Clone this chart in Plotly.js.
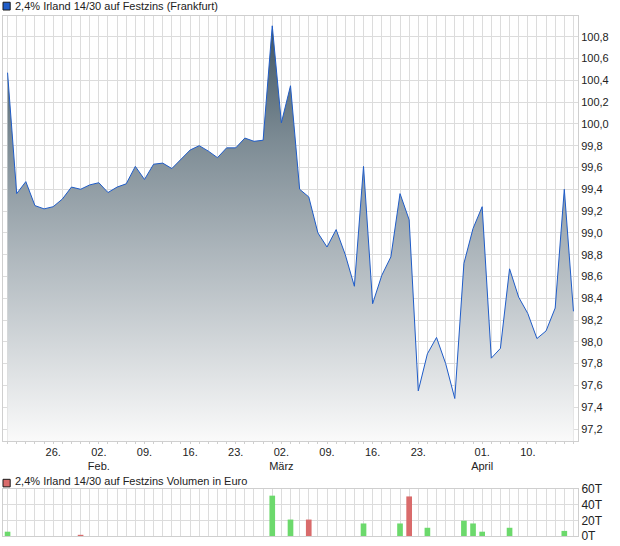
<!DOCTYPE html>
<html>
<head>
<meta charset="utf-8">
<script src="https://cdn.plot.ly/plotly-3.0.1.min.js"></script>
<style>html,body{margin:0;padding:0;background:#fff;}#chart{width:620px;height:546px;}</style>
</head>
<body>
<div id="chart"></div>
<script>
// Trading days (Frankfurt, 2015)
var dates = [
 '2015-01-19','2015-01-20','2015-01-21','2015-01-22','2015-01-23',
 '2015-01-26','2015-01-27','2015-01-28','2015-01-29','2015-01-30',
 '2015-02-02','2015-02-03','2015-02-04','2015-02-05','2015-02-06',
 '2015-02-09','2015-02-10','2015-02-11','2015-02-12','2015-02-13',
 '2015-02-16','2015-02-17','2015-02-18','2015-02-19','2015-02-20',
 '2015-02-23','2015-02-24','2015-02-25','2015-02-26','2015-02-27',
 '2015-03-02','2015-03-03','2015-03-04','2015-03-05','2015-03-06',
 '2015-03-09','2015-03-10','2015-03-11','2015-03-12','2015-03-13',
 '2015-03-16','2015-03-17','2015-03-18','2015-03-19','2015-03-20',
 '2015-03-23','2015-03-24','2015-03-25','2015-03-26','2015-03-27',
 '2015-03-30','2015-03-31','2015-04-01','2015-04-02',
 '2015-04-07','2015-04-08','2015-04-09','2015-04-10',
 '2015-04-13','2015-04-14','2015-04-15','2015-04-16','2015-04-17'
];
var prices = [
 100.47, 99.36, 99.47, 99.25, 99.22,
 99.24, 99.31, 99.42, 99.40, 99.44,
 99.46, 99.37, 99.42, 99.45, 99.61,
 99.49, 99.63, 99.64, 99.59, 99.68,
 99.76, 99.80, 99.75, 99.69, 99.78,
 99.78, 99.87, 99.84, 99.85, 100.90,
 100.01, 100.35, 99.40, 99.33, 99.00,
 98.87, 99.03, 98.80, 98.51, 99.61,
 98.35, 98.61, 98.78, 99.36, 99.12,
 97.55, 97.89, 98.04, 97.80, 97.48,
 98.72, 99.04, 99.24, 97.85,
 97.94, 98.67, 98.41, 98.26,
 98.03, 98.10, 98.31, 99.40, 98.28
];
// Volume in thousand euro (T)
var volDates = ['2015-01-19','2015-01-29','2015-02-27','2015-03-03','2015-03-05','2015-03-13','2015-03-19',
                '2015-03-20','2015-03-24','2015-03-30','2015-03-31','2015-04-01','2015-04-08','2015-04-16'];
var volValues = [5.5, 1.5, 51.5, 21, 21, 16, 16, 50.5, 10.5, 19.5, 16, 5.5, 10.5, 6.5];

var tickDates = ['2015-01-26','2015-02-02','2015-02-09','2015-02-16','2015-02-23','2015-03-02',
                 '2015-03-09','2015-03-16','2015-03-23','2015-04-01','2015-04-10'];
var tickLabels = ['26.','02.<br>Feb.','09.','16.','23.','02.<br>März','09.','16.','23.','01.<br>April','10.'];

var priceTicks = [97.2,97.4,97.6,97.8,98.0,98.2,98.4,98.6,98.8,99.0,99.2,99.4,99.6,99.8,100.0,100.2,100.4,100.6,100.8];
var volTicks = [0,20,40,60];
var volTickLabels = ['0T','20T','40T','60T'];

var titleMain = '2,4% Irland 14/30 auf Festzins (Frankfurt)';
var titleVol = '2,4% Irland 14/30 auf Festzins Volumen in Euro';

var xIdx = dates.map(function(d, i){ return i; });
var volX = volDates.map(function(d){ return dates.indexOf(d); });
var volColors = volX.map(function(i){
  return (i === 0 || prices[i] >= prices[i-1]) ? '#6cd96c' : '#d96b6b';
});
var tickVals = tickDates.map(function(d){ return dates.indexOf(d); });

var GRID = '#dcdcdc';
var FONT = {family: '"Liberation Sans", Arial, sans-serif', size: 11, color: '#222'};

var priceTrace = {
  x: xIdx, y: prices, type: 'scatter', mode: 'lines',
  line: {color: '#1f5cc8', width: 1},
  fill: 'tozeroy',
  fillgradient: {type: 'vertical', start: 97.09, stop: 100.99,
    colorscale: [[0, 'rgb(250,250,250)'], [0.45, 'rgb(172,181,187)'], [0.72, 'rgb(122,137,146)'], [1, 'rgb(58,80,95)']]},
  xaxis: 'x', yaxis: 'y', hoverinfo: 'skip'
};
var volTrace = {
  x: volX, y: volValues, type: 'bar', width: 0.62,
  marker: {color: volColors, line: {width: 0}},
  xaxis: 'x2', yaxis: 'y2', hoverinfo: 'skip'
};

var xCommon = {
  range: [-0.5, dates.length - 0.5], showgrid: true, gridcolor: GRID, gridwidth: 1,
  zeroline: false, showline: true, linecolor: '#cfcfcf', linewidth: 1, mirror: true,
  tickmode: 'array', tickvals: tickVals, ticktext: tickLabels,
  minor: {dtick: 1, tick0: 0, showgrid: true, gridcolor: GRID, gridwidth: 1, ticks: 'outside', ticklen: 2, tickcolor: '#cfcfcf'},
  tickfont: FONT, fixedrange: true
};

var layout = {
  width: 620, height: 546,
  margin: {l: 3, r: 42, t: 16, b: 10},
  paper_bgcolor: '#fff', plot_bgcolor: '#fff',
  separators: ',.',
  showlegend: false,
  font: FONT,
  xaxis: Object.assign({}, xCommon, {anchor: 'y', ticks: 'outside', ticklen: 1, tickcolor: '#cfcfcf', showticklabels: true}),
  xaxis2: Object.assign({}, xCommon, {anchor: 'y2', matches: 'x', ticks: '', showticklabels: false,
    minor: {dtick: 1, tick0: 0, showgrid: true, gridcolor: GRID, gridwidth: 1}}),
  yaxis: {
    domain: [0.1827, 1], range: [97.09, 100.99], side: 'right',
    tickmode: 'array', tickvals: priceTicks, tickformat: '.1f',
    showgrid: true, gridcolor: GRID, zeroline: false,
    showline: true, linecolor: '#cfcfcf', mirror: true, ticks: '', tickfont: FONT, fixedrange: true
  },
  yaxis2: {
    domain: [0, 0.0904], range: [0, 60], side: 'right',
    tickmode: 'array', tickvals: volTicks, ticktext: volTickLabels,
    showgrid: true, gridcolor: GRID, zeroline: false,
    showline: true, linecolor: '#cfcfcf', mirror: true, ticks: '',
    tickfont: {family: FONT.family, size: 12, color: '#222'}, fixedrange: true
  },
  shapes: [
    {type: 'rect', xref: 'paper', yref: 'paper', x0: 0, x1: 0.0125, y0: 1.0115, y1: 1.0265,
     fillcolor: '#1f5cc8', line: {color: '#1a1a1a', width: 1}},
    {type: 'rect', xref: 'paper', yref: 'paper', x0: 0, x1: 0.0125, y0: 0.0945, y1: 0.1090,
     fillcolor: '#d96b6b', line: {color: '#1a1a1a', width: 1}}
  ],
  annotations: [
    {xref: 'paper', yref: 'paper', x: 0.019, y: 1.0185, xanchor: 'left', yanchor: 'middle',
     text: titleMain, showarrow: false, font: FONT, borderpad: 0},
    {xref: 'paper', yref: 'paper', x: 0.019, y: 0.1055, xanchor: 'left', yanchor: 'middle',
     text: titleVol, showarrow: false, font: FONT, borderpad: 0}
  ]
};

Plotly.newPlot('chart', [priceTrace, volTrace], layout, {staticPlot: true, displayModeBar: false});
</script>
</body>
</html>
